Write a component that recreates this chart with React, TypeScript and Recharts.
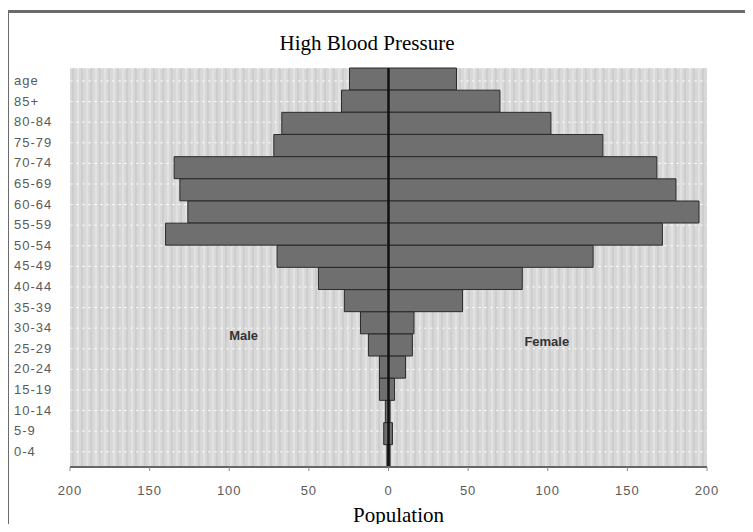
import {
  Bar,
  BarChart,
  CartesianGrid,
  ReferenceDot,
  ReferenceLine,
  XAxis,
  YAxis,
} from "recharts";

// tick labels down the left side (the "age" header is part of the column)
const tickLabels = [
  "age", "85+", "80-84", "75-79", "70-74", "65-69", "60-64", "55-59", "50-54",
  "45-49", "40-44", "35-39", "30-34", "25-29", "20-24", "15-19", "10-14", "5-9", "0-4",
];
const ageGroups = tickLabels.slice(1);

const male = [24.5, 29.5, 67, 72, 134.6, 131, 126, 140, 70, 44, 27.7, 17.6, 12.6, 5.7, 5.7, 2, 3, 1];
const female = [42.7, 70, 102, 134.6, 168.5, 180.5, 195, 172, 128.5, 84, 46.5, 16, 15, 10.7, 3.8, 1, 2.5, 1];

const xTicks = [-200, -150, -100, -50, 0, 50, 100, 150, 200];

const data = ageGroups.map((group, i) => ({
  group,
  row: i + 1,
  male: -male[i],
  female: female[i],
}));

const sans = "'Liberation Sans', Arial, sans-serif";
const serif = "'Liberation Serif', 'Times New Roman', serif";

function AgeTick({ y, payload }: any) {
  return (
    <text
      x={14}
      y={y}
      dy={4}
      textAnchor="start"
      fontFamily={sans}
      fontSize={13}
      letterSpacing={1}
      fill="#5a5a5a"
    >
      {tickLabels[payload.value]}
    </text>
  );
}

export default function App() {
  return (
    <div
      style={{
        position: "relative",
        width: 753,
        height: 532,
        margin: -8,
        overflow: "hidden",
        background: "#fff",
      }}
    >
      <svg width={0} height={0} style={{ position: "absolute" }}>
        <defs>
          <pattern id="stripes" width={9} height={10} patternUnits="userSpaceOnUse">
            <rect width={9} height={10} fill="#d8d8d8" />
            <rect x={0} width={2} height={10} fill="#cdcdcd" />
            <rect x={5} width={2} height={10} fill="#e2e2e2" />
          </pattern>
        </defs>
      </svg>
      <div
        style={{
          position: "absolute",
          left: 6,
          top: 10,
          width: 800,
          height: 600,
          borderLeft: "3px solid #6b6b6b",
          borderTop: "3px solid #6b6b6b",
        }}
      />
      <div
        style={{
          position: "absolute",
          left: 0,
          top: 31,
          width: 734,
          textAlign: "center",
          fontFamily: serif,
          fontSize: 21,
          color: "#000",
        }}
      >
        High Blood Pressure
      </div>
      <BarChart
        width={753}
        height={532}
        data={data}
        layout="vertical"
        stackOffset="sign"
        barCategoryGap={0}
        margin={{ top: 68, right: 46, bottom: 0, left: 14 }}
        style={{ position: "absolute", left: 0, top: 0 }}
      >
        <CartesianGrid
          yAxisId="lbl"
          vertical={false}
          fill="url(#stripes)"
          stroke="#ffffff"
          strokeOpacity={0.8}
          strokeDasharray="3 3"
        />
        <XAxis
          type="number"
          domain={[-200, 200]}
          ticks={xTicks}
          tickFormatter={(v) => String(Math.abs(v))}
          height={65}
          tickSize={4}
          tickMargin={15}
          axisLine={{ stroke: "#666", strokeWidth: 2 }}
          tickLine={{ stroke: "#888" }}
          tick={{ fontFamily: sans, fontSize: 13, fill: "#5a5a5a", letterSpacing: 1 }}
          label={{
            value: "Population",
            position: "insideBottom",
            offset: 10,
            dx: 10,
            fontFamily: serif,
            fontSize: 21,
            fill: "#000",
          }}
        />
        <YAxis yAxisId="cat" type="category" dataKey="group" hide />
        <YAxis
          yAxisId="lbl"
          type="number"
          dataKey="row"
          domain={[-0.63, 18.74]}
          allowDataOverflow
          ticks={tickLabels.map((_, i) => i)}
          interval={0}
          width={56}
          tickSize={0}
          tickMargin={0}
          axisLine={false}
          tickLine={false}
          tick={<AgeTick />}
        />
        <Bar
          yAxisId="cat"
          dataKey="male"
          stackId="pop"
          fill="#6f6f6f"
          stroke="#2b2b2b"
          strokeWidth={1}
          isAnimationActive={false}
        />
        <Bar
          yAxisId="cat"
          dataKey="female"
          stackId="pop"
          fill="#6f6f6f"
          stroke="#2b2b2b"
          strokeWidth={1}
          isAnimationActive={false}
        />
        <ReferenceLine yAxisId="cat" x={0} stroke="#111" strokeWidth={2.5} />
        <ReferenceDot
          yAxisId="lbl"
          x={-91}
          y={12.33}
          r={0}
          label={{
            value: "Male",
            position: "center",
            fontFamily: sans,
            fontSize: 13,
            fontWeight: "bold",
            fill: "#333",
          }}
        />
        <ReferenceDot
          yAxisId="lbl"
          x={99.4}
          y={12.62}
          r={0}
          label={{
            value: "Female",
            position: "center",
            fontFamily: sans,
            fontSize: 13,
            fontWeight: "bold",
            fill: "#333",
          }}
        />
      </BarChart>
    </div>
  );
}
